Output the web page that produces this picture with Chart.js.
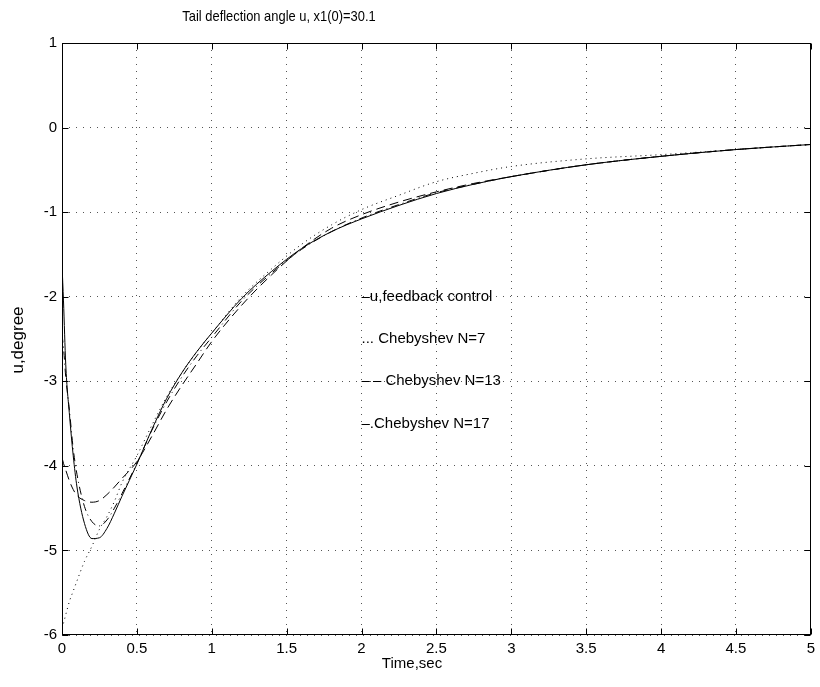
<!DOCTYPE html>
<html>
<head>
<meta charset="utf-8">
<title>Tail deflection angle u</title>
<script src="https://cdn.jsdelivr.net/npm/chart.js@4.4.1/dist/chart.umd.min.js"></script>
<style>
  html, body { margin: 0; padding: 0; background: #fff; }
  #wrap { width: 820px; height: 687px; }
</style>
</head>
<body>
<div id="wrap"><canvas id="chart" width="820" height="687"></canvas></div>
<script>
// values
const timeSec = [0, 0.01, 0.025, 0.05, 0.075, 0.1, 0.15, 0.2, 0.25, 0.3, 0.35, 0.4, 0.5, 0.6, 0.7, 0.8, 0.9, 1.0,
                 1.2, 1.4, 1.6, 1.8, 2.0, 2.25, 2.5, 2.75, 3.0, 3.5, 4.0, 4.5, 5.0];

// u, feedback control (solid)
const uFeedback = [-1.62, -2.05, -2.8, -3.4, -3.88, -4.25, -4.68, -4.86, -4.85, -4.74, -4.56, -4.36, -3.98, -3.57, -3.2, -2.9, -2.65, -2.43,
                   -2.02, -1.7, -1.43, -1.23, -1.08, -0.92, -0.78, -0.67, -0.58, -0.44, -0.34, -0.26, -0.2];

// Chebyshev N=7 (dotted)
const uCheb7 = [-5.92, -5.86, -5.76, -5.6, -5.48, -5.36, -5.13, -4.95, -4.75, -4.6, -4.42, -4.2, -3.88, -3.52, -3.18, -2.9, -2.65, -2.43,
                -2.0, -1.67, -1.38, -1.15, -0.97, -0.8, -0.64, -0.54, -0.46, -0.37, -0.32, -0.26, -0.2];

// Chebyshev N=13 (dashed)
const uCheb13 = [-3.9, -3.97, -4.05, -4.18, -4.28, -4.35, -4.41, -4.43, -4.41, -4.34, -4.25, -4.15, -3.95, -3.65, -3.33, -3.05, -2.79, -2.53,
                 -2.1, -1.74, -1.43, -1.19, -1.03, -0.88, -0.76, -0.66, -0.58, -0.44, -0.34, -0.26, -0.2];

// Chebyshev N=17 (dash-dot)
const uCheb17 = [-2.45, -2.6, -2.95, -3.35, -3.8, -4.1, -4.48, -4.66, -4.71, -4.64, -4.5, -4.33, -3.97, -3.58, -3.24, -2.95, -2.7, -2.48,
                 -2.05, -1.72, -1.44, -1.23, -1.07, -0.91, -0.77, -0.67, -0.58, -0.44, -0.34, -0.26, -0.2];

const legendLabels = ['\u2013u,feedback control', '... Chebyshev N=7', '\u2013\u2009\u2013 Chebyshev N=13', '\u2013.Chebyshev N=17'];
const titleText = 'Tail deflection angle u, x1(0)=30.1';
const xLabel = 'Time,sec';
const yLabel = 'u,degree';

const FONT = "'Liberation Sans', Arial, Helvetica, sans-serif";

function toPoints(ys) {
    return timeSec.map((t, i) => ({ x: t, y: ys[i] }));
}

function lineSet(label, ys, dash) {
    return {
        label: label,
        data: toPoints(ys),
        borderColor: '#000',
        borderWidth: 1,
        borderDash: dash,
        pointRadius: 0,
        fill: false,
        cubicInterpolationMode: 'monotone'
    };
}

// axes box, inward ticks, text annotations (matlab style)
const matlabFrame = {
    id: 'matlabFrame',
    afterDraw(chart) {
        const ctx = chart.ctx;
        const a = chart.chartArea;
        const xs = chart.scales.x;
        const ys = chart.scales.y;
        const L = Math.round(a.left) + 0.5, R = Math.round(a.right) - 0.5;
        const T = Math.round(a.top) + 0.5, B = Math.round(a.bottom) - 0.5;

        ctx.save();
        ctx.strokeStyle = '#000';
        ctx.lineWidth = 1;
        ctx.setLineDash([]);
        ctx.strokeRect(L, T, R - L, B - T);

        ctx.beginPath();
        xs.ticks.forEach(tk => {
            const px = Math.round(xs.getPixelForValue(tk.value)) + 0.5;
            ctx.moveTo(px, B); ctx.lineTo(px, B - 6);
            ctx.moveTo(px, T); ctx.lineTo(px, T + 6);
        });
        ys.ticks.forEach(tk => {
            const py = Math.round(ys.getPixelForValue(tk.value)) + 0.5;
            ctx.moveTo(L, py); ctx.lineTo(L + 6, py);
            ctx.moveTo(R, py); ctx.lineTo(R - 6, py);
        });
        ctx.stroke();

        // text legend placed in data coordinates
        ctx.fillStyle = '#000';
        ctx.font = '15px ' + FONT;
        ctx.textAlign = 'left';
        ctx.textBaseline = 'middle';
        legendLabels.forEach((s, i) => {
            ctx.fillText(s, xs.getPixelForValue(2.0), ys.getPixelForValue(-2 - 0.5 * i));
        });

        // title (the original font is a bit condensed)
        ctx.textAlign = 'center';
        ctx.save();
        ctx.translate(279, 17);
        ctx.scale(0.86, 1);
        ctx.font = '15px ' + FONT;
        ctx.fillText(titleText, 0, 0);
        ctx.restore();

        ctx.font = '15px ' + FONT;
        ctx.fillText(xLabel, 412, 664);
        ctx.translate(18, 340);
        ctx.rotate(-Math.PI / 2);
        ctx.font = '17px ' + FONT;
        ctx.fillText(yLabel, 0, 0);
        ctx.restore();
    }
};

const ctx = document.getElementById('chart').getContext('2d');

new Chart(ctx, {
    type: 'line',
    data: {
        datasets: [
            lineSet('u,feedback control', uFeedback, []),
            lineSet('Chebyshev N=7', uCheb7, [1, 4]),
            lineSet('Chebyshev N=13', uCheb13, [9, 5]),
            lineSet('Chebyshev N=17', uCheb17, [8, 4, 1, 4])
        ]
    },
    options: {
        responsive: false,
        animation: false,
        events: [],
        layout: { padding: { top: 43, right: 8, left: 0, bottom: 0 } },
        plugins: {
            legend: { display: false },
            title: { display: false },
            tooltip: { enabled: false }
        },
        scales: {
            x: {
                type: 'linear',
                min: 0,
                max: 5,
                afterFit(scale) { scale.height = 52; },
                ticks: {
                    stepSize: 0.5,
                    autoSkip: false,
                    maxRotation: 0,
                    padding: 5,
                    color: '#000',
                    font: { family: FONT, size: 15 },
                    callback: v => String(Math.round(v * 10) / 10)
                },
                grid: { color: '#555', lineWidth: 1, drawTicks: false },
                border: { display: false, dash: [1, 6] }
            },
            y: {
                type: 'linear',
                min: -6,
                max: 1,
                afterFit(scale) { scale.width = 62; },
                ticks: {
                    stepSize: 1,
                    padding: 5,
                    color: '#000',
                    font: { family: FONT, size: 15 }
                },
                grid: { color: '#555', lineWidth: 1, drawTicks: false },
                border: { display: false, dash: [1, 6] }
            }
        }
    },
    plugins: [matlabFrame]
});
</script>
</body>
</html>
